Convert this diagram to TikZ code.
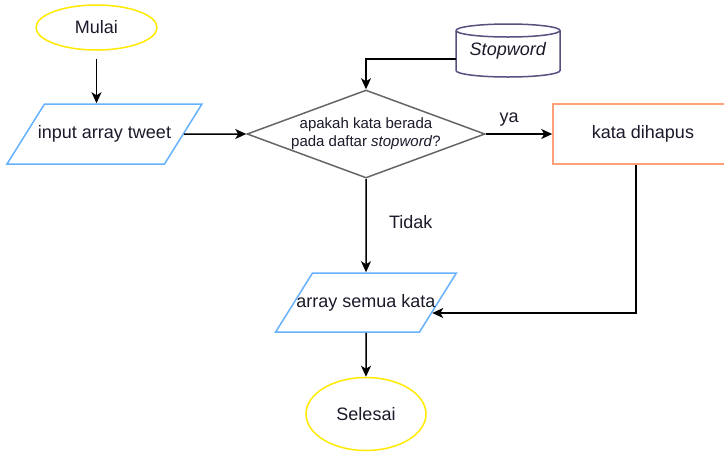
\documentclass[tikz,border=0pt]{standalone}
\usepackage{fontspec}
\setmainfont{Liberation Sans}
\usetikzlibrary{shapes.geometric,arrows.meta}
\definecolor{termcol}{HTML}{FFEA00}
\definecolor{iocol}{HTML}{66B2FF}
\definecolor{proccol}{HTML}{FFA07A}
\definecolor{dbcol}{HTML}{56517E}
\definecolor{deccol}{HTML}{666666}
\definecolor{txtcol}{HTML}{1A1A2A}
\tikzset{
  base/.style={text=txtcol, font=\fontsize{18}{21}\selectfont, line width=1.5pt},
  terminal/.style={base, ellipse, draw=termcol, inner sep=0pt},
  iobox/.style={base, trapezium, trapezium left angle=58, trapezium right angle=122,
    draw=iocol, inner xsep=0pt, text height=13pt, text depth=4pt},
  decision/.style={base, diamond, draw=deccol, aspect=2.7, inner sep=0pt,
    minimum width=238pt, minimum height=88pt, align=center,
    font=\fontsize{15}{18}\selectfont},
  process/.style={base, rectangle, draw=proccol, inner sep=0pt},
  flow/.style={line width=1.5pt, -{Stealth[length=11pt,width=10pt,inset=3pt]}},
  lbl/.style={text=txtcol, font=\fontsize{18}{21}\selectfont}
}
\begin{document}
\begin{tikzpicture}[x=1pt,y=-1pt]
\clip (0,0) rectangle (724,451);
\fill[white] (0,0) rectangle (724,451);

% start / end terminals
\node[terminal, minimum width=121pt, minimum height=45pt] (start) at (96.5,27.5) {Mulai};
\node[terminal, minimum width=120pt, minimum height=73pt] (stop) at (366,414) {Selesai};

% input / output (text may run over the slanted sides)
\node[iobox, inner ysep=21.5pt] (input) at (104.5,134)
  {\makebox[120pt][c]{input array tweet}};
\node[iobox, inner ysep=21pt] (words) at (366,302.5)
  {\makebox[107pt][c]{array semua kata}};

% decision
\node[decision] (check) at (366,134) {apakah kata berada\\pada daftar \textit{stopword}?};

% removal step
\node[process, minimum width=180pt, minimum height=60pt] (remove) at (643,134) {kata dihapus};

% stopword database (cylinder)
\draw[dbcol, line width=1.5pt, fill=white]
  (456,30.5) -- (456,70.5) arc[start angle=180, end angle=360, x radius=52, y radius=-6.5]
  -- (560,30.5) arc[start angle=0, end angle=180, x radius=52, y radius=-6.5];
\draw[dbcol, line width=1.5pt] (456,30.5) arc[start angle=180, end angle=360, x radius=52, y radius=-6.5];
\node[lbl, minimum width=104pt, minimum height=53pt, inner sep=0pt] (stopdb) at (508,50.5)
  {\raisebox{-3pt}{\textit{Stopword}}};

% connectors
\draw[flow, shorten <=8pt] (start.south) -- (start.south |- input.north);
\draw[flow] (input.0) -- (check.west);
\draw[flow] ([yshift=-8.5pt]stopdb.west) -| (check.north);
\draw[flow] (check.east) -- node[lbl, above=4pt, pos=0.35] {ya} (remove.west);
\draw[flow] (check.south) -- node[lbl, right=19pt, pos=0.46] {Tidak} (words.north);
\draw[flow] ([xshift=-7pt]remove.south) |- (words.-9);
\draw[flow] (words.south) -- (stop.north);
\end{tikzpicture}
\end{document}
